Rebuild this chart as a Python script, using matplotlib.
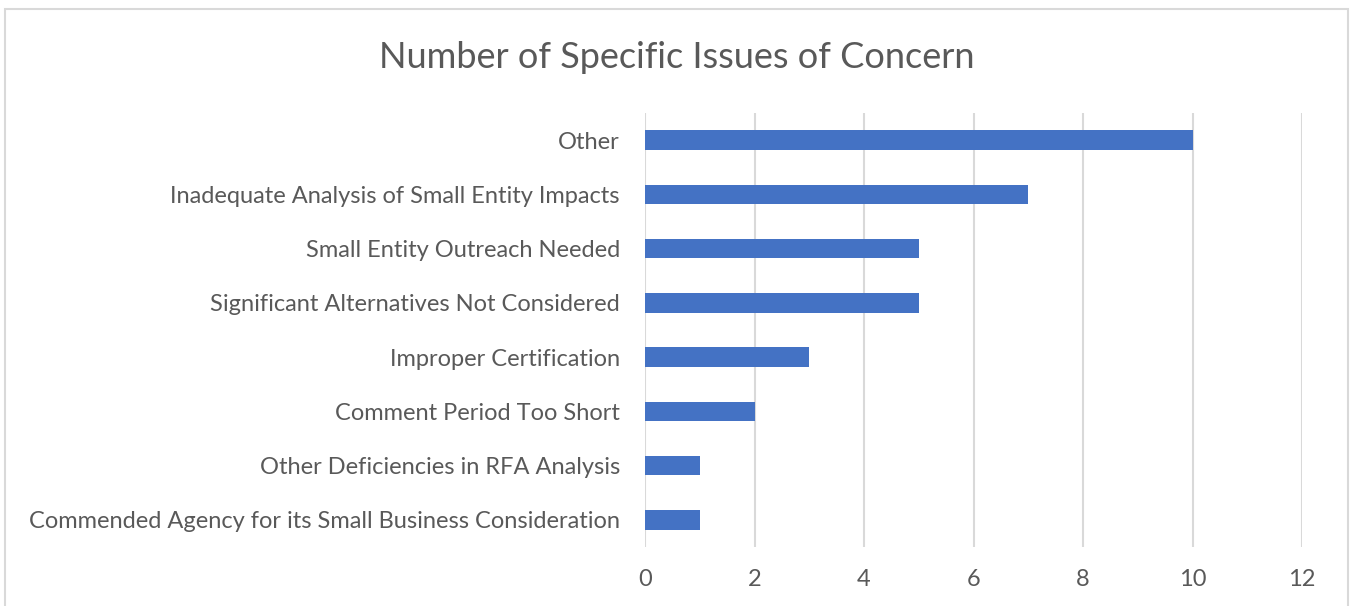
import matplotlib.pyplot as plt
from matplotlib.patches import Rectangle

categories = [
    "Other",
    "Inadequate Analysis of Small Entity Impacts",
    "Small Entity Outreach Needed",
    "Significant Alternatives Not Considered",
    "Improper Certification",
    "Comment Period Too Short",
    "Other Deficiencies in RFA Analysis",
    "Commended Agency for its Small Business Consideration",
]
counts = [10, 7, 5, 5, 3, 2, 1, 1]
x_ticks = [0, 2, 4, 6, 8, 10, 12]

plt.rcParams['font.family'] = ['Lato', 'DejaVu Sans']
text_color = '#595959'

fig = plt.figure(figsize=(13.5, 6.06), dpi=100)
ax = fig.add_axes([645 / 1350, 1 - 547 / 606, (1302 - 645) / 1350, (547 - 113) / 606])

# outer chart border (bottom runs off the image)
fig.patches.append(Rectangle((5 / 1350, -0.05), (1348 - 5) / 1350, 1.05 - 9 / 606,
                             transform=fig.transFigure, fill=False,
                             edgecolor='#d9d9d9', linewidth=1.5))

ypos = list(range(len(categories)))
ax.barh(ypos, counts, height=0.36, color='#4472C4', zorder=3)
ax.set_ylim(len(categories) - 0.5, -0.5)
ax.set_yticks(ypos)
ax.set_yticklabels(categories, fontsize=17, color=text_color)

ax.set_xlim(0, 12)
ax.set_xticks(x_ticks)
ax.set_xticklabels([str(t) for t in x_ticks], fontsize=17, color=text_color)
ax.xaxis.grid(True, color='#d9d9d9', linewidth=1.5, zorder=0)
ax.tick_params(axis='both', length=0)
ax.tick_params(axis='x', pad=16)
ax.tick_params(axis='y', pad=18)
for s in ax.spines.values():
    s.set_visible(False)

fig.text(677 / 1350, 1 - 57 / 606, "Number of Specific Issues of Concern",
         ha='center', va='center', fontsize=26, color=text_color)

fig.savefig('out.png', dpi=100)
